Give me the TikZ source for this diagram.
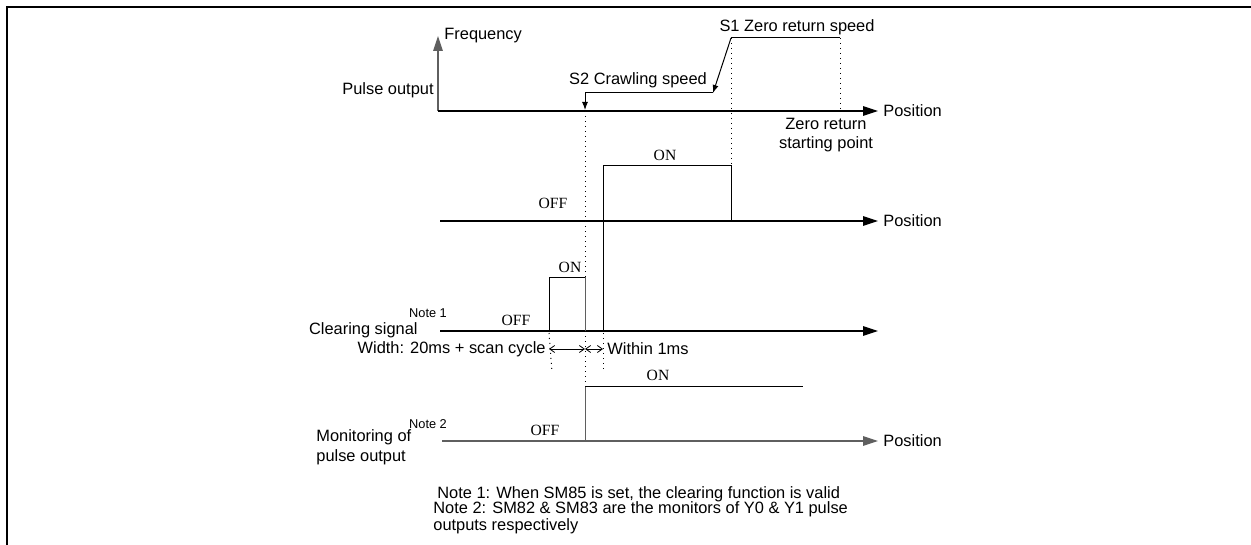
\documentclass[tikz,border=0pt]{standalone}
\usepackage{fontspec}
\setmainfont{Liberation Serif}
\setsansfont{Liberation Sans}
\usetikzlibrary{arrows.meta,positioning}
\definecolor{edgegray}{RGB}{95,95,95}

\begin{document}
\begin{tikzpicture}[x=0.5pt, y=-0.5pt,
    lbl/.style={font=\sffamily\fontsize{8.2}{9.8}\selectfont, inner sep=1pt},
    small/.style={font=\sffamily\fontsize{6.4}{7.5}\selectfont, inner sep=1pt},
    level/.style={font=\rmfamily\fontsize{7.8}{9}\selectfont, inner sep=1pt},
    axis/.style={line width=0.6pt, -{Triangle[length=7.5pt,width=4.8pt]}},
    sig/.style={line width=0.5pt},
    guide/.style={line width=0.5pt, dotted},
    dim/.style={line width=0.4pt, {Straight Barb[length=2.5pt,width=3.5pt]}-{Straight Barb[length=2.5pt,width=3.5pt]}}]
        \useasboundingbox (0,0) rectangle (1251,545);
        \draw[line width=1pt] (1251,7) -- (7,7) -- (7,545);

        % pulse output
        \coordinate (po) at (438,111);
        \draw[axis, edgegray] (po) -- (438,36);
        \draw[axis] (po) -- (878,111);
        \node[lbl, anchor=west] (freq) at (442,36) {Frequency};
        \node[lbl, anchor=east] (pout) at (436,90) {Pulse output};
        \node[lbl, anchor=west] (pos1) at (881,111) {Position};
        \coordinate (crawl) at (713,93);
        \coordinate (peak) at (731,38);
        \draw[sig, -{Latex[length=4pt,width=3pt]}] (crawl) -- (585,93) -- (585,110);
        \draw[sig, -{Latex[length=4pt,width=3pt]}] (peak) -- (crawl);
        \draw[sig] (peak) -- (840,38);
        \draw[guide] (840,38) -- (840,111);
        \node[lbl] (s1) at (797,27) {S1 Zero return speed};
        \node[lbl] (s2) at (638,80) {S2 Crawling speed};
        \node[lbl, align=center] (zrs) at (826,135) {Zero return\\starting point};

        % dog signal
        \draw[axis] (440,221) -- (878,221);
        \node[lbl, anchor=west] (pos2) at (881,221) {Position};
        \draw[sig] (603,331) -- (603,166) -- (731,166) -- (731,221);
        \draw[guide] (peak) -- (731,166);
        \node[level] (on2) at (665,155) {ON};
        \node[level] (off2) at (553,203) {OFF};

        % clearing signal
        \draw[axis] (440,331) -- (878,331);
        \draw[sig] (549,331) -- (549,277) -- (585,277);
        \draw[sig, edgegray] (585,277) -- (585,331);
        \draw[guide] (585,111) -- (585,277);
        \node[level] (on3) at (570,267) {ON};
        \node[level] (off3) at (516,320) {OFF};
        \node[small] (n1) at (428,313) {Note 1};
        \node[lbl, anchor=east] (clr) at (420,330) {Clearing signal};
        \draw[guide] (549,333) -- (552,372);
        \draw[guide] (585,331) -- (585,386);
        \draw[guide] (603,333) -- (603,372);
        \draw[dim] (549,349) -- (585,349);
        \draw[dim] (585,349) -- (603,349);
        \node[lbl, anchor=east] (wid) at (548,349) {Width: 20ms + scan cycle};
        \node[lbl, anchor=west] (w1ms) at (605,349) {Within 1ms};

        % monitoring
        \draw[axis, edgegray] (442,441) -- (878,441);
        \node[lbl, anchor=west] (pos4) at (881,441) {Position};
        \draw[sig, edgegray] (585,441) -- (585,386);
        \draw[sig] (585,386) -- (803,386);
        \node[level] (on4) at (658,375) {ON};
        \node[level] (off4) at (545,430) {OFF};
        \node[small] (n2) at (428,424) {Note 2};
        \node[lbl, anchor=west, align=left] (mon) at (314,447) {Monitoring of\\pulse output};

        % notes
        \node[lbl, inner sep=0pt, anchor=west] (note1) at (437,494) {Note 1: When SM85 is set, the clearing function is valid};
        \node[lbl, inner sep=0pt, anchor=west, align=left, font=\sffamily\fontsize{8.2}{8.4}\selectfont] (note2) at (433,518) {Note 2: SM82 \& SM83 are the monitors of Y0 \& Y1 pulse\\outputs respectively};
    \end{tikzpicture}
\end{document}
